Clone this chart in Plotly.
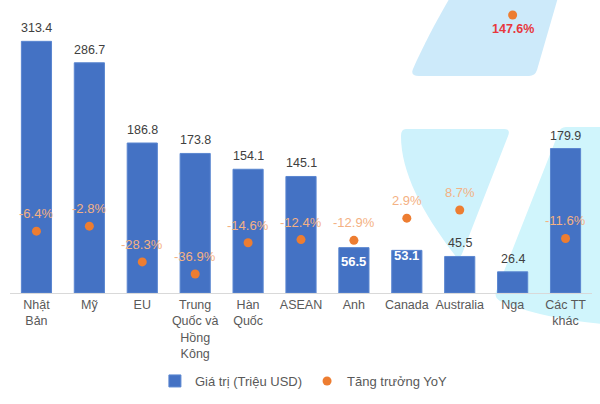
import plotly.graph_objects as go

categories = ["Nhật<br>Bản", "Mỹ", "EU", "Trung<br>Quốc và<br>Hồng<br>Kông", "Hàn<br>Quốc",
              "ASEAN", "Anh", "Canada", "Australia", "Nga", "Các TT<br>khác"]
values = [313.4, 286.7, 186.8, 173.8, 154.1, 145.1, 56.5, 53.1, 45.5, 26.4, 179.9]
growth = [-6.4, -2.8, -28.3, -36.9, -14.6, -12.4, -12.9, 2.9, 8.7, 147.6, -11.6]

BAR_NAME = "Giá trị (Triệu USD)"
DOT_NAME = "Tăng trưởng YoY"

# layout geometry (pixels)
W, H = 600, 404
ML, MR, MT, MB = 10, 8, 13, 111
PW, PH = W - ML - MR, H - MT - MB

def px(x):
    return (x - ML) / PW

def py(y):
    return (H - MB - y) / PH

fig = go.Figure()
fig.add_trace(go.Bar(
    x=categories, y=values, name=BAR_NAME,
    marker=dict(color="#4472C4", line=dict(color="#5A86D0", width=1)),
    yaxis="y", hoverinfo="x+y",
))
fig.add_trace(go.Scatter(
    x=categories, y=growth, name=DOT_NAME, mode="markers",
    marker=dict(color="#ED7D31", size=9),
    yaxis="y2", cliponaxis=False,
))

annotations = []
inside = {"Anh": -14, "Canada": -5}
for c, v in zip(categories, values):
    if c in inside:
        annotations.append(dict(x=c, y=v, xref="x", yref="y", text="<b>%.1f</b>" % v,
                                showarrow=False, yanchor="middle", yshift=inside[c],
                                font=dict(size=13, color="#FFFFFF")))
    else:
        annotations.append(dict(x=c, y=v, xref="x", yref="y", text="%.1f" % v,
                                showarrow=False, yanchor="bottom", yshift=4,
                                font=dict(size=12.5, color="#404040")))
for c, g in zip(categories, growth):
    if g > 100:
        annotations.append(dict(x=c, y=g, xref="x", yref="y2", text="<b>%.1f%%</b>" % g,
                                showarrow=False, yanchor="top", yshift=-5,
                                font=dict(size=12.5, color="#E8383D")))
    else:
        annotations.append(dict(x=c, y=g, xref="x", yref="y2", text="%.1f%%" % g,
                                showarrow=False, yanchor="bottom", yshift=8,
                                font=dict(size=13, color="#F4B183")))

def P(x, y):
    return "%.4f,%.4f" % (px(x), py(y))

shapes = [
    # top watermark piece
    dict(type="path", xref="paper", yref="paper", layer="below", line=dict(width=0),
         fillcolor="#CDEAFA",
         path="M %s L %s L %s Q %s %s L %s Q %s %s C %s %s %s Z" % (
             P(452, -6), P(559, -6), P(537, 70), P(535, 76), P(529, 76), P(419, 76),
             P(410, 76), P(413, 69), P(424, 44), P(438, 18), P(452, -6))),
    # V piece
    dict(type="path", xref="paper", yref="paper", layer="below", line=dict(width=0),
         fillcolor="#CEF2FC",
         path="M %s L %s Q %s %s L %s Q %s %s C %s %s %s Q %s %s Z" % (
             P(406, 129), P(504, 129), P(511, 129), P(508, 136), P(462, 254),
             P(458, 261), P(454, 254), P(422, 212), P(401, 172), P(401, 136),
             P(401, 129), P(406, 129))),
    # right piece
    dict(type="path", xref="paper", yref="paper", layer="below", line=dict(width=0),
         fillcolor="#D0F5FC",
         path="M %s L %s L %s Q %s %s Q %s %s L %s Q %s %s Z" % (
             P(566, 127), P(602, 127), P(602, 324), P(540, 318), P(500, 301),
             P(493, 297), P(497, 289), P(558, 134), P(560, 127), P(566, 127))),
]

fig.update_layout(
    width=W, height=H,
    margin=dict(l=ML, r=MR, t=MT, b=MB, pad=0, autoexpand=False),
    paper_bgcolor="white", plot_bgcolor="rgba(0,0,0,0)",
    font=dict(family="Arial, Liberation Sans, sans-serif", size=12.5, color="#595959"),
    bargap=0.43,
    showlegend=True,
    legend=dict(orientation="h", x=0.505, xanchor="center", y=py(381), yanchor="middle",
                font=dict(size=13, color="#595959"), itemwidth=30,
                bgcolor="rgba(0,0,0,0)", tracegroupgap=0),
    xaxis=dict(showline=True, linecolor="#D9D9D9", linewidth=1, ticks="",
               showgrid=False, automargin=False, range=[-0.5, len(categories) - 0.5],
               tickfont=dict(size=12.5, color="#595959")),
    yaxis=dict(range=[0, PH / 0.803], visible=False, showgrid=False, automargin=False),
    yaxis2=dict(range=[(222.2 - (H - MB)) / 1.404, (222.2 - MT) / 1.404],
                overlaying="y", side="right", visible=False, showgrid=False,
                automargin=False),
    annotations=annotations,
    shapes=shapes,
)

fig.write_html("out.html")
